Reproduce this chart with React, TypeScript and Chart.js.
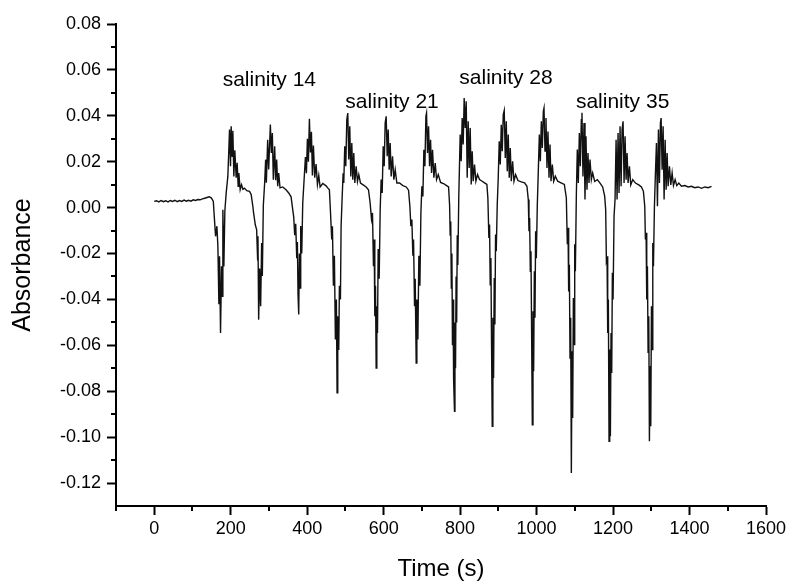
import React, { useEffect, useRef } from "react";
import { Chart, registerables } from "chart.js";

Chart.register(...registerables);

// ---- axis ticks ----
const xMajorTicks = [0, 200, 400, 600, 800, 1000, 1200, 1400, 1600];
const xTickLabels = ["0", "200", "400", "600", "800", "1000", "1200", "1400", "1600"];
const xMinorTicks = [-100, 100, 300, 500, 700, 900, 1100, 1300, 1500];
const yMajorTicks = [-0.12, -0.1, -0.08, -0.06, -0.04, -0.02, 0, 0.02, 0.04, 0.06, 0.08];
const yTickLabels = ["-0.12", "-0.10", "-0.08", "-0.06", "-0.04", "-0.02", "0.00", "0.02", "0.04", "0.06", "0.08"];
const yMinorTicks = [-0.11, -0.09, -0.07, -0.05, -0.03, -0.01, 0.01, 0.03, 0.05, 0.07];

// ---- annotations ----
const labelTexts = ["salinity 14", "salinity 21", "salinity 28", "salinity 35"];
const labelTimes = [301, 622, 920, 1225];
const labelAbs = [0.0555, 0.046, 0.0565, 0.046];

// ---- absorbance trace: [time (s), absorbance] ----
const baseline = [
  [0, 0.0027], [6, 0.003], [12, 0.0025], [18, 0.0031], [24, 0.0026], [30, 0.003], [36, 0.0025],
  [42, 0.0031], [48, 0.0027], [54, 0.0032], [60, 0.0026], [66, 0.0031], [72, 0.0027], [78, 0.0033],
  [84, 0.0028], [90, 0.0032], [96, 0.0028], [102, 0.0034], [108, 0.0031], [114, 0.0035], [120, 0.0034],
  [126, 0.0038], [132, 0.0041], [138, 0.0044], [144, 0.0047], [149, 0.0043], [152, 0.0035],
];
const cycle14a = [
  [154.5, 0.0027], [157, -0.0038], [160.4, -0.0125], [163.9, -0.0081], [166.5, -0.0169], [169.1, -0.0421],
  [170.8, -0.0212], [173.4, -0.0546], [176, -0.0256], [177.8, -0.0386], [179.5, -0.0009], [182.1, -0.0256],
  [184.7, -0.0015], [188.2, 0.0064], [192.5, 0.0136], [195.1, 0.0253], [196.9, 0.034], [199.5, 0.018],
  [201.2, 0.0354], [203.8, 0.0224], [205.6, 0.0335], [208.2, 0.0136], [210.8, 0.025], [214.3, 0.013],
  [216.9, 0.0195], [219.5, 0.0093], [221.3, 0.0151], [224.8, 0.0078], [228.3, 0.01], [232, 0.008],
  [236.1, 0.0085], [242, 0.0074], [249.2, 0.0071], [253.5, 0.0057], [257.9, 0.0006],
];
const cycle14b = [
  [260, -0.0025], [264.4, -0.0076], [267.8, -0.0096], [270.4, -0.0227], [271.3, -0.0125], [273.1, -0.0488],
  [275.7, -0.0265], [278.3, -0.043], [280.9, -0.0154], [282.7, -0.0298], [285.3, 0.0009], [288.8, 0.0108],
  [291.4, 0.0209], [293.2, 0.0108], [296.7, 0.0296], [299.3, 0.0166], [303.7, 0.0362], [306.3, 0.0238],
  [308.9, 0.0325], [311.5, 0.0122], [315, 0.0267], [317.6, 0.0119], [320.2, 0.0209], [322.9, 0.0093],
  [325.5, 0.0151], [329, 0.0086], [336, 0.009], [344.7, 0.0078], [351.7, 0.0064], [357.9, 0.0047],
  [362.2, -0.0009],
];
const cycle14c = [
  [364.8, -0.004], [367.4, -0.012], [370, -0.007], [372.7, -0.022], [374.4, -0.015], [376.1, -0.038],
  [377.9, -0.0466], [379.6, -0.02], [381.4, -0.035], [383.1, -0.008], [385.8, -0.02], [388.4, 0.002],
  [391.9, 0.012], [395.4, 0.022], [398, 0.015], [400.6, 0.03], [403.2, 0.02], [405.8, 0.0387],
  [408.5, 0.024], [411.1, 0.033], [413.7, 0.014], [416.3, 0.027], [419.8, 0.013], [423.3, 0.019],
  [426.8, 0.01], [430.3, 0.014], [433.8, 0.009], [440.8, 0.0105], [445, 0.01], [449.5, 0.0095],
  [453.7, 0.0086], [458.1, 0.0078],
];
const cycle21a = [
  [460.7, -0.0009], [464.2, -0.0139], [466, -0.0081], [468.6, -0.034], [471.2, -0.021], [473.8, -0.0575],
  [476.4, -0.04], [478.2, -0.0807], [480, -0.0473], [482.6, -0.062], [484.3, -0.034], [487, -0.04],
  [488.7, -0.0081], [491.3, 0.0035], [494, 0.015], [495.7, 0.0107], [498.3, 0.0267], [501, 0.018],
  [503.6, 0.0383], [506.2, 0.0412], [508.8, 0.021], [511.4, 0.0354], [514.1, 0.0136], [516.7, 0.0281],
  [519.3, 0.0122], [521.9, 0.0238], [524.6, 0.0107], [528.1, 0.018], [531.5, 0.0114], [535, 0.0144],
  [539.4, 0.0107], [545.5, 0.01], [554.2, 0.009], [560.3, 0.0078],
];
const cycle21b = [
  [564.7, 0.002], [568.2, -0.005], [570.8, -0.0023], [573.4, -0.0255], [575.2, -0.0139], [576.9, -0.0473],
  [578.7, -0.034], [580.4, -0.0699], [582.2, -0.043], [583.9, -0.0546], [585.7, -0.018], [588.3, -0.031],
  [590.9, -0.001], [593.5, 0.0122], [596.2, 0.0064], [598.8, 0.0267], [601.4, 0.018], [604, 0.0369],
  [606.6, 0.0398], [609.3, 0.0224], [611.9, 0.034], [614.5, 0.0165], [617.1, 0.0281], [619.7, 0.0136],
  [623.2, 0.0224], [626.7, 0.0122], [630.2, 0.0165], [634.6, 0.0107], [641.5, 0.0107], [650.3, 0.0096],
  [659, 0.009], [665.1, 0.0076],
];
const cycle21c = [
  [668.6, 0.0006], [671.2, -0.0081], [673.8, -0.0052], [676.4, -0.021], [678.2, -0.0139], [680.8, -0.043],
  [682.5, -0.031], [685.1, -0.0677], [686.9, -0.04], [689.5, -0.0575], [692.1, -0.021], [694.8, -0.034],
  [697.4, -0.0023], [700, 0.0093], [702.6, 0.0049], [705.2, 0.0252], [707.9, 0.018], [710.5, 0.0398],
  [712.2, 0.0412], [714.8, 0.0238], [717.5, 0.0354], [720.1, 0.018], [722.7, 0.0296], [725.3, 0.0151],
  [727.9, 0.0252], [731.4, 0.013], [734.9, 0.0194], [738.4, 0.0122], [742.8, 0.0144], [748.9, 0.011],
  [757.6, 0.0104], [764.6, 0.0096], [769.8, 0.009],
];
const cycle28a = [
  [772.5, 0.001], [774, -0.012], [775.5, -0.006], [777, -0.035], [778.5, -0.02], [780, -0.06],
  [781.5, -0.04], [783, -0.075], [785.3, -0.0887], [786.5, -0.05], [788, -0.07], [789.5, -0.03],
  [791, -0.05], [792.5, -0.012], [794, -0.025], [796.6, 0.0057], [800.2, 0.0318], [802.8, 0.0202],
  [805.4, 0.039], [808, 0.0275], [810.6, 0.0478], [813.3, 0.0347], [815.9, 0.0463], [818.5, 0.013],
  [821.1, 0.0376], [823.7, 0.0173], [826.4, 0.0347], [829, 0.0101], [831.6, 0.0246], [834.2, 0.0115],
  [837.7, 0.0188], [841.2, 0.0115], [845.5, 0.0144], [850.8, 0.0122], [857.7, 0.0115], [863.9, 0.0108],
  [870, 0.0101],
];
const cycle28b = [
  [872.6, 0.0042], [875.2, -0.0132], [877, -0.0074], [878.7, -0.0336], [880.5, -0.022], [882.2, -0.0597],
  [884, -0.0953], [885.7, -0.048], [887.5, -0.0742], [889.2, -0.0307], [891, -0.0509], [892.7, -0.0117],
  [894.5, -0.019], [897.1, 0.0013], [899.7, 0.013], [902.3, 0.0289], [905, 0.0188], [907.6, 0.0361],
  [910.2, 0.0246], [912.8, 0.0405], [915.4, 0.0423], [918.1, 0.0216], [920.7, 0.0376], [923.3, 0.0159],
  [925.9, 0.0318], [928.5, 0.013], [931.2, 0.026], [933.8, 0.0115], [937.3, 0.0202], [940.8, 0.0115],
  [945.1, 0.0144], [951.2, 0.0118], [960, 0.0112], [968.7, 0.0108], [974.8, 0.0093],
];
const cycle28c = [
  [978.3, 0.0035], [980.1, -0.0103], [981.8, -0.0045], [983.6, -0.0277], [985.3, -0.019], [987.1, -0.0568],
  [988.8, -0.0946], [990.6, -0.0451], [992.3, -0.0713], [994.1, -0.0277], [995.8, -0.048], [997.5, -0.0103],
  [999.3, -0.022], [1001.9, 0.0013], [1004.5, 0.0159], [1007.2, 0.0318], [1009.8, 0.0202], [1012.4, 0.0376],
  [1015, 0.026], [1017.6, 0.042], [1019.4, 0.0434], [1022, 0.0246], [1024.6, 0.039], [1027.2, 0.0173],
  [1029.8, 0.0332], [1032.5, 0.013], [1035.1, 0.0275], [1037.7, 0.0115], [1041.2, 0.0188], [1044.7, 0.0115],
  [1049, 0.0137], [1055.1, 0.0115], [1063.9, 0.0108], [1072.6, 0.0101],
];
const cycle35a = [
  [1077.8, 0.0042], [1080.4, -0.016], [1082.2, -0.0088], [1083.9, -0.0365], [1085.7, -0.0249], [1087.4, -0.0655],
  [1089.2, -0.048], [1090.9, -0.1156], [1092.7, -0.0626], [1094.4, -0.0917], [1096.2, -0.0394], [1097.9, -0.0597],
  [1099.7, -0.016], [1101.4, -0.0277], [1104, 0.0057], [1106.5, 0.0253], [1109.1, 0.0107], [1111.8, 0.0325],
  [1114.4, 0.018], [1117, 0.0383], [1118.7, 0.0413], [1121.3, 0.0136], [1124, 0.0369], [1126.6, 0.0035],
  [1129.2, 0.0311], [1131.8, 0.0078], [1134.4, 0.0238], [1137.1, 0.0107], [1139.7, 0.0209], [1143.2, 0.0122],
  [1146.7, 0.0151], [1151.9, 0.0114], [1158.9, 0.0122], [1165.9, 0.0107], [1172.8, 0.009], [1178.1, 0.005],
];
const cycle35b = [
  [1180.7, -0.0009], [1182.5, -0.0227], [1184.2, -0.0212], [1186, -0.0546], [1187.7, -0.04], [1189.5, -0.1018],
  [1191.2, -0.0618], [1193, -0.0996], [1194.7, -0.0546], [1196.5, -0.072], [1198.2, -0.0284], [1200, -0.04],
  [1202.6, -0.0037], [1205.2, 0.0035], [1207.9, 0.0296], [1210.5, 0.0035], [1213.1, 0.0325], [1215.7, 0.0064],
  [1218.3, 0.0354], [1221, 0.0093], [1223.6, 0.034], [1226.2, 0.0376], [1228.8, 0.0107], [1231.4, 0.0311],
  [1234.1, 0.0122], [1236.7, 0.0238], [1239.3, 0.0107], [1242.8, 0.018], [1246.3, 0.0099], [1251.5, 0.0122],
  [1258.5, 0.0107], [1267.2, 0.0099], [1274.2, 0.009], [1279.4, 0.0071],
];
const cycle35c = [
  [1282.9, 0.0006], [1284.6, -0.0139], [1286.4, -0.011], [1288.1, -0.04], [1289.9, -0.0255], [1291.6, -0.063],
  [1293.4, -0.0473], [1295.1, -0.1018], [1296.9, -0.069], [1298.6, -0.0952], [1300.4, -0.043], [1302.1, -0.0618],
  [1303.9, -0.0154], [1305.6, -0.0255], [1308.2, 0.0006], [1310.8, 0.015], [1313.5, 0.0281], [1316.1, 0.0006],
  [1318.7, 0.034], [1321.3, 0.0107], [1323.9, 0.0369], [1325.7, 0.039], [1328.3, 0.0165], [1330.9, 0.0354],
  [1333.5, 0.0035], [1336.2, 0.0296], [1338.8, 0.0078], [1341.4, 0.0238], [1344, 0.0093], [1347.5, 0.018],
  [1351, 0.0099], [1354.5, 0.0151], [1358, 0.0096], [1362.3, 0.0122], [1366.7, 0.0096], [1371.9, 0.0107],
];
const tail = [
  [1378.9, 0.0093], [1387.6, 0.0096], [1396.3, 0.009], [1405.1, 0.0093], [1413.8, 0.0087], [1422.5, 0.009],
  [1431.3, 0.0084], [1440, 0.009], [1448.7, 0.0087], [1457.5, 0.0093],
];

const segments = [
  baseline, cycle14a, cycle14b, cycle14c, cycle21a, cycle21b, cycle21c,
  cycle28a, cycle28b, cycle28c, cycle35a, cycle35b, cycle35c, tail,
];

const FONT = "'Liberation Sans', Arial, Helvetica, sans-serif";

const decorations = {
  id: "decorations",
  afterDraw(chart: any) {
    const { ctx, chartArea, scales } = chart;
    const xs = scales.x;
    const ys = scales.y;
    ctx.save();
    ctx.strokeStyle = "#000";
    ctx.lineWidth = 2;
    ctx.beginPath();
    xMinorTicks.forEach((v) => {
      const px = Math.round(xs.getPixelForValue(v));
      ctx.moveTo(px, chartArea.bottom);
      ctx.lineTo(px, chartArea.bottom + 5);
    });
    yMinorTicks.forEach((v) => {
      const py = Math.round(ys.getPixelForValue(v));
      ctx.moveTo(chartArea.left - 5, py);
      ctx.lineTo(chartArea.left, py);
    });
    ctx.stroke();

    ctx.fillStyle = "#000";
    ctx.font = `21px ${FONT}`;
    ctx.textAlign = "center";
    ctx.textBaseline = "middle";
    labelTexts.forEach((t, i) => {
      ctx.fillText(t, xs.getPixelForValue(labelTimes[i]), ys.getPixelForValue(labelAbs[i]));
    });
    ctx.restore();
  },
};

export default function App() {
  const ref = useRef<HTMLCanvasElement | null>(null);

  useEffect(() => {
    if (!ref.current) return;
    const points = segments.flat().map(([t, a]) => ({ x: t, y: a }));
    const chart = new Chart(ref.current, {
      type: "line",
      data: {
        datasets: [
          {
            data: points,
            borderColor: "#111",
            borderWidth: 1.4,
            pointRadius: 0,
            tension: 0,
            fill: false,
          },
        ],
      },
      options: {
        animation: false,
        responsive: false,
        events: [],
        layout: { padding: { top: 24, right: 24, left: 0, bottom: 0 } },
        plugins: { legend: { display: false }, tooltip: { enabled: false } },
        scales: {
          x: {
            type: "linear",
            min: -100,
            max: 1600,
            afterFit: (s: any) => {
              s.height = 79;
            },
            afterBuildTicks: (s: any) => {
              s.ticks = xMajorTicks.map((v) => ({ value: v }));
            },
            border: { display: true, color: "#000", width: 2 },
            grid: {
              display: true,
              drawOnChartArea: false,
              drawTicks: true,
              tickLength: 9,
              tickWidth: 2,
              tickColor: "#000",
            },
            ticks: {
              color: "#000",
              font: { family: FONT, size: 18 },
              padding: 3,
              maxRotation: 0,
              autoSkip: false,
              callback: (_v: any, i: number) => xTickLabels[i],
            },
            title: {
              display: true,
              text: "Time (s)",
              color: "#000",
              font: { family: FONT, size: 24 },
              padding: { top: 0, bottom: 1 },
            },
          },
          y: {
            type: "linear",
            min: -0.13,
            max: 0.08,
            afterFit: (s: any) => {
              s.width = 116;
            },
            afterBuildTicks: (s: any) => {
              s.ticks = yMajorTicks.map((v) => ({ value: v }));
            },
            border: { display: true, color: "#000", width: 2 },
            grid: {
              display: true,
              drawOnChartArea: false,
              drawTicks: true,
              tickLength: 9,
              tickWidth: 2,
              tickColor: "#000",
            },
            ticks: {
              color: "#000",
              font: { family: FONT, size: 18 },
              padding: 6,
              autoSkip: false,
              callback: (_v: any, i: number) => yTickLabels[i],
            },
            title: {
              display: true,
              text: "Absorbance",
              color: "#000",
              font: { family: FONT, size: 25 },
              padding: { top: 8, bottom: 0 },
            },
          },
        },
      },
      plugins: [decorations],
    });
    return () => chart.destroy();
  }, []);

  return (
    <div style={{ position: "absolute", left: 0, top: 0, width: 790, height: 585, background: "#fff" }}>
      <canvas ref={ref} width={790} height={585} style={{ display: "block" }} />
    </div>
  );
}
